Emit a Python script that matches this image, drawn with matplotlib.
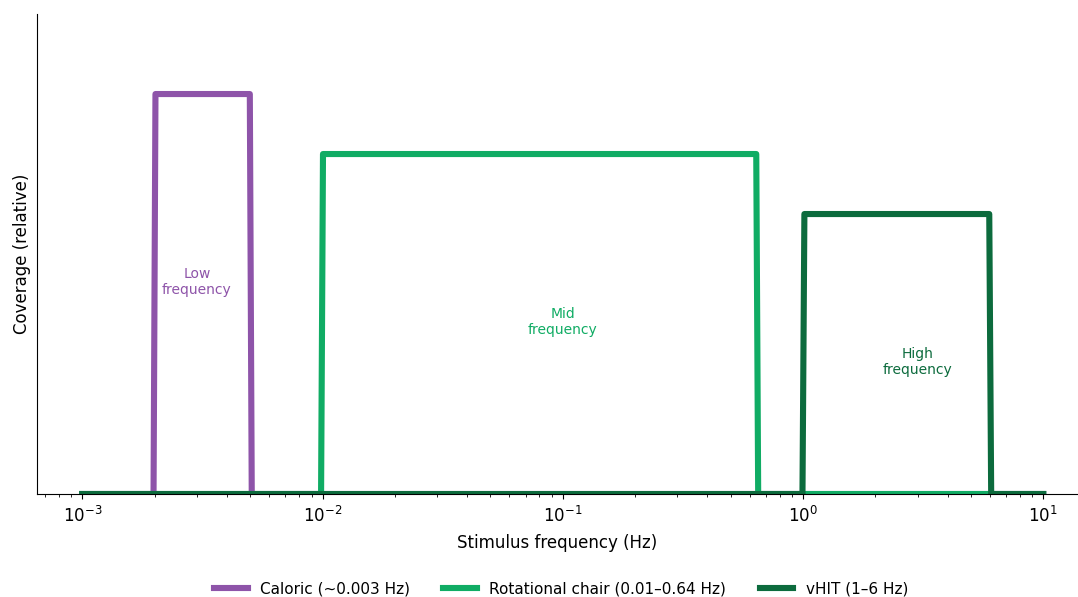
import numpy as np
import matplotlib.pyplot as plt

# test bands: (low Hz, high Hz, relative height)
labels = ['Caloric (~0.003 Hz)', 'Rotational chair (0.01–0.64 Hz)', 'vHIT (1–6 Hz)']
f_lo = [0.002, 0.01, 1.0]
f_hi = [0.005, 0.64, 6.0]
heights = [1.0, 0.85, 0.7]
colors = ['#8e54a9', '#10ac64', '#0c6b3d']

band_names = ['Low\nfrequency', 'Mid\nfrequency', 'High\nfrequency']
name_x = [0.003, 0.1, 3.0]
name_y = [0.53, 0.43, 0.33]

freq = np.logspace(-3, 1, 500)

fig = plt.figure(figsize=(10.78, 5.97), dpi=100)
ax = fig.add_axes([0.034, 0.1725, 0.966, 0.804])

for lo, hi, h, c, lab in zip(f_lo, f_hi, heights, colors, labels):
    y = np.where((freq >= lo) & (freq <= hi), h, 0.0)
    ax.plot(freq, y, color=c, lw=4.4, label=lab)

for x, y, t, c in zip(name_x, name_y, band_names, colors):
    ax.text(x, y, t, color=c, ha='center', va='center', fontsize=10)

ax.set_xscale('log')
ax.set_xlim(10**-3.19, 10**1.145)
ax.set_ylim(0, 1.2)
ax.set_yticks([])
ax.set_xlabel('Stimulus frequency (Hz)', fontsize=12, labelpad=6)
ax.set_ylabel('Coverage (relative)', fontsize=12)
ax.tick_params(axis='x', labelsize=12, pad=5)
ax.spines['top'].set_visible(False)
ax.spines['right'].set_visible(False)

fig.legend(loc='center', bbox_to_anchor=(561 / 1078, 1 - 589 / 597), ncol=3, frameon=False,
           fontsize=11, handlelength=2.2, columnspacing=2.2)

fig.savefig('out.png', dpi=100)
